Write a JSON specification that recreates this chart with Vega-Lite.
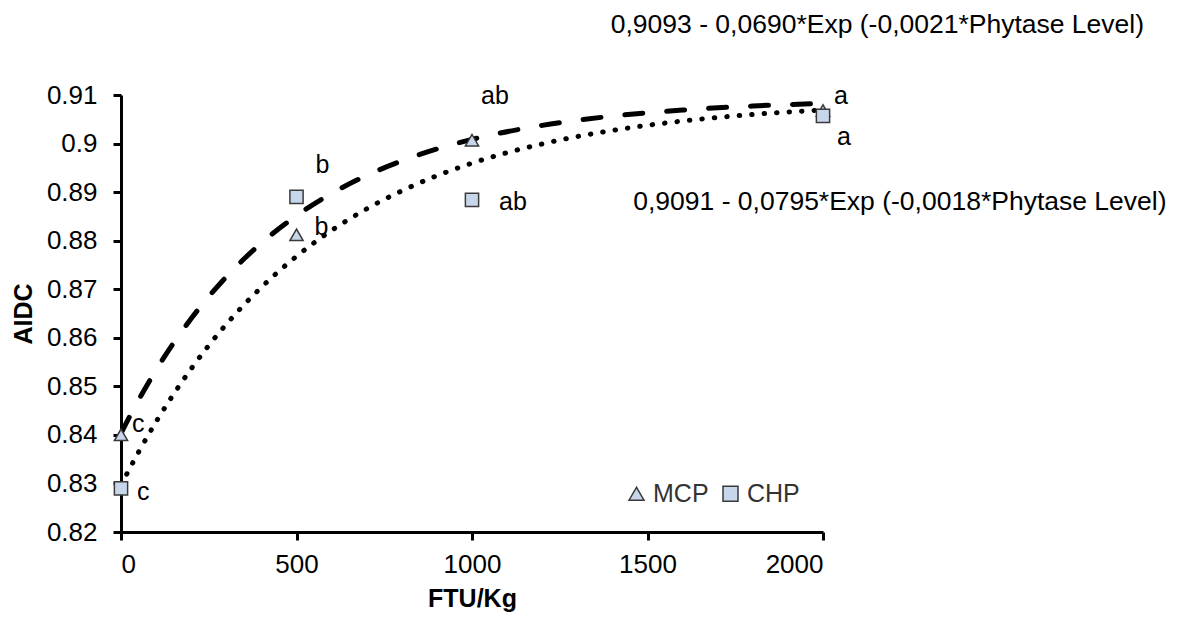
{
  "$schema": "https://vega.github.io/schema/vega-lite/v6.json",
  "autosize": {"type": "none"},
  "padding": {"left": 121, "top": 95, "right": 365, "bottom": 87},
  "width": 702,
  "height": 437,
  "background": "white",
  "config": {
    "view": {"stroke": null},
    "font": "Liberation Sans",
    "axis": {"grid": false, "domainColor": "black", "domainWidth": 3, "tickColor": "black", "tickWidth": 3, "tickSize": 8, "labelColor": "black", "labelFont": "Liberation Sans", "labelFontSize": 26, "titleFont": "Liberation Sans", "titleFontSize": 25, "titleFontWeight": "bold", "titleColor": "black"},
    "legend": {"padding": 0}
  },
  "datasets": {
    "points": [
      {"ftu": 0, "aidc": 0.840, "source": "MCP", "letter": "c"},
      {"ftu": 500, "aidc": 0.8812, "source": "MCP", "letter": "b"},
      {"ftu": 1000, "aidc": 0.9007, "source": "MCP", "letter": "ab"},
      {"ftu": 2000, "aidc": 0.9068, "source": "MCP", "letter": "a"},
      {"ftu": 0, "aidc": 0.829, "source": "CHP", "letter": "c"},
      {"ftu": 500, "aidc": 0.889, "source": "CHP", "letter": "b"},
      {"ftu": 1000, "aidc": 0.8884, "source": "CHP", "letter": "ab"},
      {"ftu": 2000, "aidc": 0.9057, "source": "CHP", "letter": "a"}
    ],
    "curves": [
      {"ftu": 0, "aidc": 0.8403, "source": "MCP"},
      {"ftu": 25, "aidc": 0.84383, "source": "MCP"},
      {"ftu": 50, "aidc": 0.84718, "source": "MCP"},
      {"ftu": 100, "aidc": 0.85337, "source": "MCP"},
      {"ftu": 150, "aidc": 0.85894, "source": "MCP"},
      {"ftu": 200, "aidc": 0.86396, "source": "MCP"},
      {"ftu": 250, "aidc": 0.86848, "source": "MCP"},
      {"ftu": 300, "aidc": 0.87255, "source": "MCP"},
      {"ftu": 350, "aidc": 0.87621, "source": "MCP"},
      {"ftu": 400, "aidc": 0.87951, "source": "MCP"},
      {"ftu": 500, "aidc": 0.88515, "source": "MCP"},
      {"ftu": 600, "aidc": 0.88973, "source": "MCP"},
      {"ftu": 700, "aidc": 0.89343, "source": "MCP"},
      {"ftu": 800, "aidc": 0.89644, "source": "MCP"},
      {"ftu": 900, "aidc": 0.89888, "source": "MCP"},
      {"ftu": 1000, "aidc": 0.90085, "source": "MCP"},
      {"ftu": 1200, "aidc": 0.90375, "source": "MCP"},
      {"ftu": 1400, "aidc": 0.90565, "source": "MCP"},
      {"ftu": 1600, "aidc": 0.9069, "source": "MCP"},
      {"ftu": 1800, "aidc": 0.90773, "source": "MCP"},
      {"ftu": 2000, "aidc": 0.90827, "source": "MCP"},
      {"ftu": 0, "aidc": 0.8296, "source": "CHP"},
      {"ftu": 25, "aidc": 0.8331, "source": "CHP"},
      {"ftu": 50, "aidc": 0.83644, "source": "CHP"},
      {"ftu": 100, "aidc": 0.8427, "source": "CHP"},
      {"ftu": 150, "aidc": 0.84841, "source": "CHP"},
      {"ftu": 200, "aidc": 0.85363, "source": "CHP"},
      {"ftu": 250, "aidc": 0.85841, "source": "CHP"},
      {"ftu": 300, "aidc": 0.86277, "source": "CHP"},
      {"ftu": 350, "aidc": 0.86676, "source": "CHP"},
      {"ftu": 400, "aidc": 0.8704, "source": "CHP"},
      {"ftu": 500, "aidc": 0.87678, "source": "CHP"},
      {"ftu": 600, "aidc": 0.8821, "source": "CHP"},
      {"ftu": 700, "aidc": 0.88655, "source": "CHP"},
      {"ftu": 800, "aidc": 0.89026, "source": "CHP"},
      {"ftu": 900, "aidc": 0.89337, "source": "CHP"},
      {"ftu": 1000, "aidc": 0.89596, "source": "CHP"},
      {"ftu": 1200, "aidc": 0.89993, "source": "CHP"},
      {"ftu": 1400, "aidc": 0.9027, "source": "CHP"},
      {"ftu": 1600, "aidc": 0.90464, "source": "CHP"},
      {"ftu": 1800, "aidc": 0.90599, "source": "CHP"},
      {"ftu": 2000, "aidc": 0.90693, "source": "CHP"}
    ],
    "notes": [
      {"source": "MCP", "equation": "0,9093 - 0,0690*Exp (-0,0021*Phytase Level)"},
      {"source": "CHP", "equation": "0,9091 - 0,0795*Exp (-0,0018*Phytase Level)"}
    ]
  },
  "layer": [
    {
      "encoding": {
        "x": {"field": "ftu", "type": "quantitative", "scale": {"domain": [0, 2000], "nice": false, "zero": false},
          "axis": {"title": "FTU/Kg", "values": [0, 500, 1000, 1500, 2000], "format": "d", "labelPadding": 11, "titlePadding": 9}},
        "y": {"field": "aidc", "type": "quantitative", "scale": {"domain": [0.82, 0.91], "nice": false, "zero": false},
          "axis": {"title": "AIDC", "values": [0.82, 0.83, 0.84, 0.85, 0.86, 0.87, 0.88, 0.89, 0.9, 0.91], "format": ".2~f", "labelPadding": 16, "titlePadding": 10}}
      },
      "layer": [
        {
          "data": {"name": "curves"},
          "transform": [{"filter": "datum.source === 'CHP'"}],
          "mark": {"type": "line", "interpolate": "monotone", "color": "black", "strokeWidth": 5, "strokeCap": "round", "strokeDash": [0.5, 12], "clip": false},
          "encoding": {}
        },
        {
          "data": {"name": "curves"},
          "transform": [{"filter": "datum.source === 'MCP'"}],
          "mark": {"type": "line", "interpolate": "monotone", "color": "black", "strokeWidth": 5, "strokeCap": "round", "strokeDash": [18, 24], "clip": false},
          "encoding": {}
        },
        {
          "data": {"name": "points"},
          "mark": {"type": "point", "filled": true, "fill": "#c8d6ec", "stroke": "#3a3a3a", "strokeWidth": 1.5, "opacity": 1, "size": 175, "clip": false},
          "encoding": {
            "shape": {"field": "source", "type": "nominal", "scale": {"domain": ["MCP", "CHP"], "range": ["triangle-up", "square"]},
              "legend": {"title": null, "orient": "none", "legendX": 503, "legendY": 386, "direction": "horizontal", "labelFontSize": 25, "labelColor": "#333333", "labelFont": "Liberation Sans", "symbolSize": 225, "labelOffset": 4, "columnPadding": 9,
                "encode": {"symbols": {"update": {"fill": {"value": "#c8d6ec"}, "stroke": {"value": "#3a3a3a"}, "strokeWidth": {"value": 1.5}, "opacity": {"value": 1}}}}}}
          }
        },
        {
          "data": {"name": "points"},
          "transform": [{"filter": "datum.source === 'MCP' && datum.ftu === 0"}],
          "mark": {"type": "text", "align": "left", "baseline": "alphabetic", "fontSize": 25, "color": "black", "dx": 11, "dy": -3},
          "encoding": {"text": {"field": "letter"}}
        },
        {
          "data": {"name": "points"},
          "transform": [{"filter": "datum.source === 'MCP' && datum.ftu === 500"}],
          "mark": {"type": "text", "align": "left", "baseline": "alphabetic", "fontSize": 25, "color": "black", "dx": 18, "dy": 0},
          "encoding": {"text": {"field": "letter"}}
        },
        {
          "data": {"name": "points"},
          "transform": [{"filter": "datum.source === 'MCP' && datum.ftu === 1000"}],
          "mark": {"type": "text", "align": "left", "baseline": "alphabetic", "fontSize": 25, "color": "black", "dx": 9, "dy": -36},
          "encoding": {"text": {"field": "letter"}}
        },
        {
          "data": {"name": "points"},
          "transform": [{"filter": "datum.source === 'MCP' && datum.ftu === 2000"}],
          "mark": {"type": "text", "align": "left", "baseline": "alphabetic", "fontSize": 25, "color": "black", "dx": 11, "dy": -7},
          "encoding": {"text": {"field": "letter"}}
        },
        {
          "data": {"name": "points"},
          "transform": [{"filter": "datum.source === 'CHP' && datum.ftu === 0"}],
          "mark": {"type": "text", "align": "left", "baseline": "alphabetic", "fontSize": 25, "color": "black", "dx": 16, "dy": 12},
          "encoding": {"text": {"field": "letter"}}
        },
        {
          "data": {"name": "points"},
          "transform": [{"filter": "datum.source === 'CHP' && datum.ftu === 500"}],
          "mark": {"type": "text", "align": "left", "baseline": "alphabetic", "fontSize": 25, "color": "black", "dx": 19, "dy": -24},
          "encoding": {"text": {"field": "letter"}}
        },
        {
          "data": {"name": "points"},
          "transform": [{"filter": "datum.source === 'CHP' && datum.ftu === 1000"}],
          "mark": {"type": "text", "align": "left", "baseline": "alphabetic", "fontSize": 25, "color": "black", "dx": 27, "dy": 10},
          "encoding": {"text": {"field": "letter"}}
        },
        {
          "data": {"name": "points"},
          "transform": [{"filter": "datum.source === 'CHP' && datum.ftu === 2000"}],
          "mark": {"type": "text", "align": "left", "baseline": "alphabetic", "fontSize": 25, "color": "black", "dx": 14, "dy": 29},
          "encoding": {"text": {"field": "letter"}}
        }
      ]
    },
    {
      "data": {"name": "notes"},
      "transform": [{"filter": "datum.source === 'MCP'"}],
      "mark": {"type": "text", "align": "center", "baseline": "middle", "fontSize": 26.5, "color": "black", "clip": false},
      "encoding": {
        "x": {"datum": 2155, "type": "quantitative", "scale": {"domain": [0, 2000], "nice": false, "zero": false},
          "axis": {"title": "FTU/Kg", "values": [0, 500, 1000, 1500, 2000], "format": "d", "labelPadding": 11, "titlePadding": 9}},
        "y": {"datum": 0.9244, "type": "quantitative", "scale": {"domain": [0.82, 0.91], "nice": false, "zero": false},
          "axis": {"title": "AIDC", "values": [0.82, 0.83, 0.84, 0.85, 0.86, 0.87, 0.88, 0.89, 0.9, 0.91], "format": ".2~f", "labelPadding": 16, "titlePadding": 10}},
        "text": {"field": "equation"}
      }
    },
    {
      "data": {"name": "notes"},
      "transform": [{"filter": "datum.source === 'CHP'"}],
      "mark": {"type": "text", "align": "center", "baseline": "middle", "fontSize": 26.5, "color": "black", "clip": false},
      "encoding": {
        "x": {"datum": 2219, "type": "quantitative", "scale": {"domain": [0, 2000], "nice": false, "zero": false},
          "axis": {"title": "FTU/Kg", "values": [0, 500, 1000, 1500, 2000], "format": "d", "labelPadding": 11, "titlePadding": 9}},
        "y": {"datum": 0.888, "type": "quantitative", "scale": {"domain": [0.82, 0.91], "nice": false, "zero": false},
          "axis": {"title": "AIDC", "values": [0.82, 0.83, 0.84, 0.85, 0.86, 0.87, 0.88, 0.89, 0.9, 0.91], "format": ".2~f", "labelPadding": 16, "titlePadding": 10}},
        "text": {"field": "equation"}
      }
    }
  ]
}
